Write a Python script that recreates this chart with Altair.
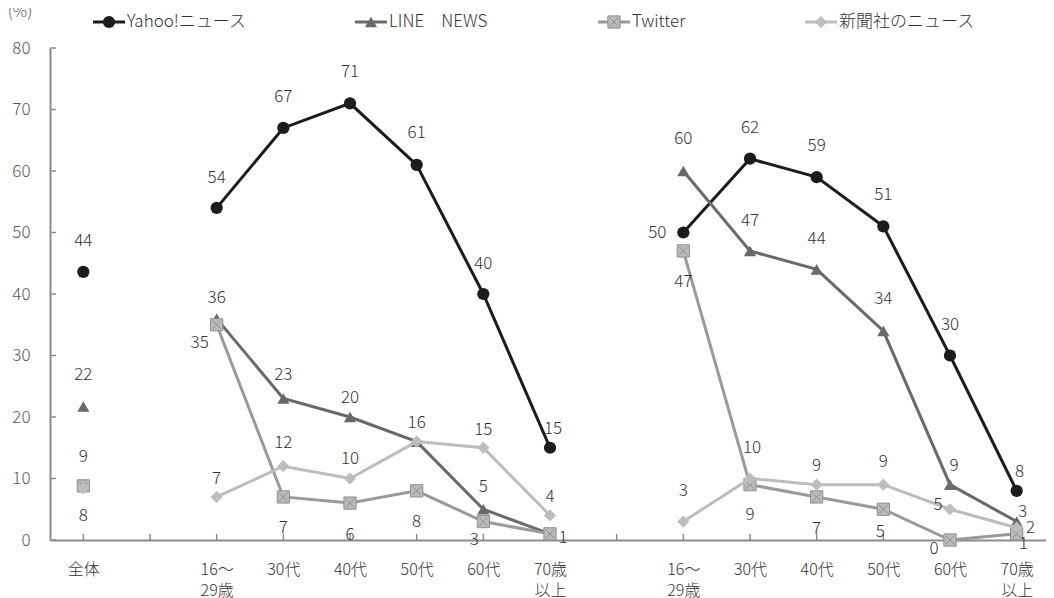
import json
import altair as alt
import pandas as pd

# ---------------- data ----------------
SERIES = ["Yahoo!ニュース", "LINE　NEWS", "Twitter", "新聞社のニュース"]
X_LABELS = ["全体", "", "16～|29歳", "30代", "40代", "50代", "60代", "70歳|以上",
            "", "16～|29歳", "30代", "40代", "50代", "60代", "70歳|以上"]
TOTAL_X = [0]
GROUP1_X = [2, 3, 4, 5, 6, 7]
GROUP2_X = [9, 10, 11, 12, 13, 14]

yahoo_total = [43.6]
yahoo_g1 = [54, 67, 71, 61, 40, 15]
yahoo_g2 = [50, 62, 59, 51, 30, 8]

line_total = [21.7]
line_g1 = [36, 23, 20, 16, 5, 1]
line_g2 = [60, 47, 44, 34, 9, 3]

twitter_total = [8.8]
twitter_g1 = [35, 7, 6, 8, 3, 1]
twitter_g2 = [47, 9, 7, 5, 0, 1]

paper_total = [8.4]
paper_g1 = [7, 12, 10, 16, 15, 4]
paper_g2 = [3, 10, 9, 9, 5, 2]

VALUES = {
    SERIES[0]: (yahoo_total, yahoo_g1, yahoo_g2),
    SERIES[1]: (line_total, line_g1, line_g2),
    SERIES[2]: (twitter_total, twitter_g1, twitter_g2),
    SERIES[3]: (paper_total, paper_g1, paper_g2),
}

# ---------------- label placement (pixel offsets, None = hidden) ----------------
LABEL_OFFSETS = {
    SERIES[0]: [(0, -31),
                (0, -30), (0, -31), (0, -31), (0, -32), (0, -30), (3, -19),
                (-26, 0), (0, -31), (0, -31), (0, -31), (0, -31), (3, -19)],
    SERIES[1]: [(0, -32),
                (0, -21), (0, -24), (0, -19), None, (0, -22), None,
                (0, -32), (0, -30), (0, -30), (0, -32), (4, -19), (6, -10)],
    SERIES[2]: [(0, -29),
                (-17, 18), (0, 31), (0, 32), (0, 31), (-9, 18), (13, 4),
                (0, 31), (0, 30), (0, 32), (-3, 23), (-16, 9), (7, 10)],
    SERIES[3]: [(0, 28),
                (0, -18), (0, -23), (0, -20), (0, -19), (0, -18), (0, -18),
                (0, -31), (2, -31), (0, -19), (0, -23), (-12, -4), (14, 0)],
}

# ---------------- styles / layout ----------------
COLORS = {SERIES[0]: "#1c1c1c", SERIES[1]: "#696969", SERIES[2]: "#9a9a9a", SERIES[3]: "#bdbdbd"}
W, H = 996, 492
X_DOMAIN = [-0.5, 14.44]
Y_DOMAIN = [0, 80]
LEGEND_X = [43, 305, 548, 755]
LEGEND_Y = -26
FONT = "Noto Sans CJK JP"
LIGHT = 300
XPX = (X_DOMAIN[1] - X_DOMAIN[0]) / W
YPX = (Y_DOMAIN[1] - Y_DOMAIN[0]) / H

rows = []
for s in SERIES:
    tot, g1, g2 = VALUES[s]
    pts = [(x, v, 0) for x, v in zip(TOTAL_X, tot)] + \
          [(x, v, 1) for x, v in zip(GROUP1_X, g1)] + \
          [(x, v, 2) for x, v in zip(GROUP2_X, g2)]
    for (x, v, g), off in zip(pts, LABEL_OFFSETS[s]):
        r = dict(series=s, x=x, value=v, group=g, label="")
        if off is not None:
            r["label"] = str(int(round(v)))
            r["xl"] = x + off[0] * XPX
            r["yl"] = v - off[1] * YPX
        rows.append(r)
df = pd.DataFrame(rows)

xs = alt.Scale(domain=X_DOMAIN, nice=False, zero=False)
ys = alt.Scale(domain=Y_DOMAIN, nice=False)
label_expr = "split(" + json.dumps(X_LABELS, ensure_ascii=False) + "[datum.value], '|')"
X_AXIS = alt.Axis(values=list(range(15)), labelExpr=label_expr, title=None, grid=False,
                  tickSize=0, domainColor="#8c8c8c", domainWidth=2, labelPadding=21,
                  labelFontSize=16, labelColor="#333333", labelFont=FONT,
                  labelFontWeight=LIGHT, labelLineHeight=21, labelBaseline="top")
Y_AXIS = alt.Axis(values=list(range(0, 81, 10)), title=None, grid=False, tickSize=0,
                  domainColor="#8c8c8c", domainWidth=2, labelPadding=20,
                  labelFontSize=17, labelColor="#595959", labelFont=FONT,
                  labelFontWeight=LIGHT)

X = alt.X("x:Q", scale=xs, axis=X_AXIS)
Y = alt.Y("value:Q", scale=ys, axis=Y_AXIS)

MARKS = {
    SERIES[0]: dict(shape="circle", size=150),
    SERIES[1]: dict(shape="triangle-up", size=150),
    SERIES[2]: dict(shape="square", size=150),
    SERIES[3]: dict(shape="diamond", size=150),
}
XSHAPE = "M-1,-1L1,1M-1,1L1,-1"

layers = []
# inward ticks
layers.append(alt.Chart(pd.DataFrame({"v": list(range(0, 81, 10))})).mark_rule(
    color="#8c8c8c", strokeWidth=1.5).encode(
    y=alt.Y("v:Q", scale=ys, axis=Y_AXIS), x=alt.value(0), x2=alt.value(6)))
layers.append(alt.Chart(pd.DataFrame({"x": list(range(15))})).mark_rule(
    color="#8c8c8c", strokeWidth=1.5).encode(
    x=X, y=alt.value(H - 6), y2=alt.value(H)))

leg = pd.DataFrame({"series": SERIES, "lx": LEGEND_X})
leg["lx2"] = leg["lx"] + 32
leg["mx"] = leg["lx"] + 16
leg["tx"] = leg["lx"] + 34

for s in SERIES:
    d = df[df.series == s]
    c = COLORS[s]
    m = MARKS[s]
    lg = leg[leg.series == s]
    layers.append(alt.Chart(d[d.group > 0]).mark_line(color=c, strokeWidth=3).encode(
        x=X, y=Y, detail="group:N"))
    layers.append(alt.Chart(lg).mark_rule(color=c, strokeWidth=3).encode(
        x=alt.X("lx:Q", scale=None), x2="lx2:Q", y=alt.value(LEGEND_Y)))
    if s == SERIES[2]:
        for src, xenc, yenc in [(d, X, Y), (lg, alt.X("mx:Q", scale=None), alt.value(LEGEND_Y))]:
            layers.append(alt.Chart(src).mark_point(
                shape="square", size=m["size"], filled=True, fill="#bababa",
                stroke="#8f8f8f", strokeWidth=1, opacity=1).encode(x=xenc, y=yenc))
            layers.append(alt.Chart(src).mark_point(
                shape=XSHAPE, size=70, filled=False, stroke="#8f8f8f",
                strokeWidth=1, opacity=1).encode(x=xenc, y=yenc))
    else:
        for src, xenc, yenc in [(d, X, Y), (lg, alt.X("mx:Q", scale=None), alt.value(LEGEND_Y))]:
            layers.append(alt.Chart(src).mark_point(
                shape=m["shape"], size=m["size"], filled=True, color=c,
                opacity=1).encode(x=xenc, y=yenc))

# data labels
lab = df[df.label != ""]
layers.append(alt.Chart(lab).mark_text(
    fontSize=17, color="#333333", font=FONT, fontWeight=LIGHT,
    align="center", baseline="middle").encode(
    x=alt.X("xl:Q", scale=xs, axis=X_AXIS), y=alt.Y("yl:Q", scale=ys, axis=Y_AXIS),
    text="label:N"))

# legend text
layers.append(alt.Chart(leg).mark_text(
    fontSize=17, color="#333333", font=FONT, fontWeight=LIGHT,
    align="left", baseline="middle").encode(
    x=alt.X("tx:Q", scale=None), y=alt.value(LEGEND_Y), text="series:N"))

# unit label
layers.append(alt.Chart(pd.DataFrame({"t": ["(%)"]})).mark_text(
    fontSize=16, color="#555555", font=FONT, fontWeight=LIGHT,
    align="center", baseline="middle").encode(
    x=alt.value(-30), y=alt.value(-36), text="t:N"))

chart = alt.layer(*layers).properties(
    width=W, height=H,
    padding={"left": 42, "top": 40, "right": 0, "bottom": 58},
    autosize=alt.AutoSizeParams(type="none"),
    background="white",
).configure_view(stroke=None)

chart.save("out.html", embed_options={"renderer": "svg", "actions": False})
